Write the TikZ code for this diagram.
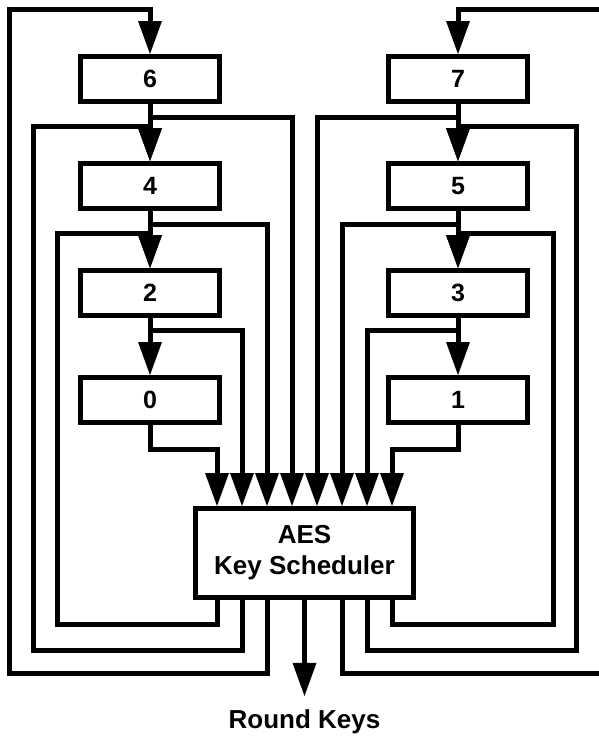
\documentclass[tikz,border=0pt]{standalone}
\usepackage{fontspec}
\setmainfont{Liberation Sans}
\usetikzlibrary{arrows.meta}

\begin{document}
\begin{tikzpicture}[x=1pt,y=-1pt,
  wire/.style={line width=5pt},
  feed/.style={wire, -{Triangle[length=33pt,width=24pt,line width=0pt]}},
  lbl/.style={font=\fontsize{26}{31}\selectfont\bfseries},
  reg/.style={draw, line width=5pt, minimum width=139pt, minimum height=45pt, inner sep=0pt, font=\fontsize{25}{30}\selectfont\bfseries}]
\useasboundingbox (0,0) rectangle (598,736);

% key registers, even on the left and odd on the right
\node[reg] (r6) at (150,79) {6};
\node[reg] (r4) at (150,186) {4};
\node[reg] (r2) at (150,293) {2};
\node[reg] (r0) at (150,400) {0};
\node[reg] (r7) at (458,79) {7};
\node[reg] (r5) at (458,186) {5};
\node[reg] (r3) at (458,293) {3};
\node[reg] (r1) at (458,400) {1};
\node[reg, lbl, minimum width=218pt, minimum height=89pt, align=center] (aes) at (304.5,553) {AES\\Key Scheduler};
\node[lbl, anchor=base, inner ysep=13pt] (rk) at (304.5,728) {Round Keys};

% inputs on top and outputs below the scheduler
\coordinate (in0) at ([xshift=-87.5pt]aes.north);
\coordinate (in1) at ([xshift=-62.5pt]aes.north);
\coordinate (in2) at ([xshift=-37.5pt]aes.north);
\coordinate (in3) at ([xshift=-12.5pt]aes.north);
\coordinate (in4) at ([xshift=12.5pt]aes.north);
\coordinate (in5) at ([xshift=37.5pt]aes.north);
\coordinate (in6) at ([xshift=62.5pt]aes.north);
\coordinate (in7) at ([xshift=87.5pt]aes.north);
\coordinate (out0) at ([xshift=-87.5pt]aes.south);
\coordinate (out1) at ([xshift=-62.5pt]aes.south);
\coordinate (out2) at ([xshift=-37.5pt]aes.south);
\coordinate (out5) at ([xshift=37.5pt]aes.south);
\coordinate (out6) at ([xshift=62.5pt]aes.south);
\coordinate (out7) at ([xshift=87.5pt]aes.south);

% corners of the feedback loops
\coordinate (k6) at (9,673);
\coordinate (t6) at (150,9);
\coordinate (k4) at (33,650);
\coordinate (t4) at (150,126);
\coordinate (k2) at (57,624);
\coordinate (t2) at (150,233);
\coordinate (k7) at (603,673);
\coordinate (t7) at (458,9);
\coordinate (k5) at (576,650);
\coordinate (t5) at (458,126);
\coordinate (k3) at (553,624);
\coordinate (t3) at (458,233);

% shift chain
\draw[feed] (r6) -- (r4);
\draw[feed] (r4) -- (r2);
\draw[feed] (r2) -- (r0);
\draw[feed] (r7) -- (r5);
\draw[feed] (r5) -- (r3);
\draw[feed] (r3) -- (r1);

% registers into the scheduler
\draw[feed] (r6.south) -- ++(0,13.5) -| (in3);
\draw[feed] (r4.south) -- ++(0,13.5) -| (in2);
\draw[feed] (r2.south) -- ++(0,12.5) -| (in1);
\draw[feed] (r0.south) -- ++(0,24.5) -| (in0);
\draw[feed] (r7.south) -- ++(0,13.5) -| (in4);
\draw[feed] (r5.south) -- ++(0,13.5) -| (in5);
\draw[feed] (r3.south) -- ++(0,12.5) -| (in6);
\draw[feed] (r1.south) -- ++(0,24.5) -| (in7);

% new keys back into the registers
\draw[feed] (out2) |- (k6) |- (t6) -- (r6.north);
\draw[feed] (out1) |- (k4) |- (t4) -- (r4.north);
\draw[feed] (out0) |- (k2) |- (t2) -- (r2.north);
\draw[feed] (out5) |- (k7) |- (t7) -- (r7.north);
\draw[feed] (out6) |- (k5) |- (t5) -- (r5.north);
\draw[feed] (out7) |- (k3) |- (t3) -- (r3.north);

\draw[feed] (aes.south) -- (rk.north);
\end{tikzpicture}
\end{document}
